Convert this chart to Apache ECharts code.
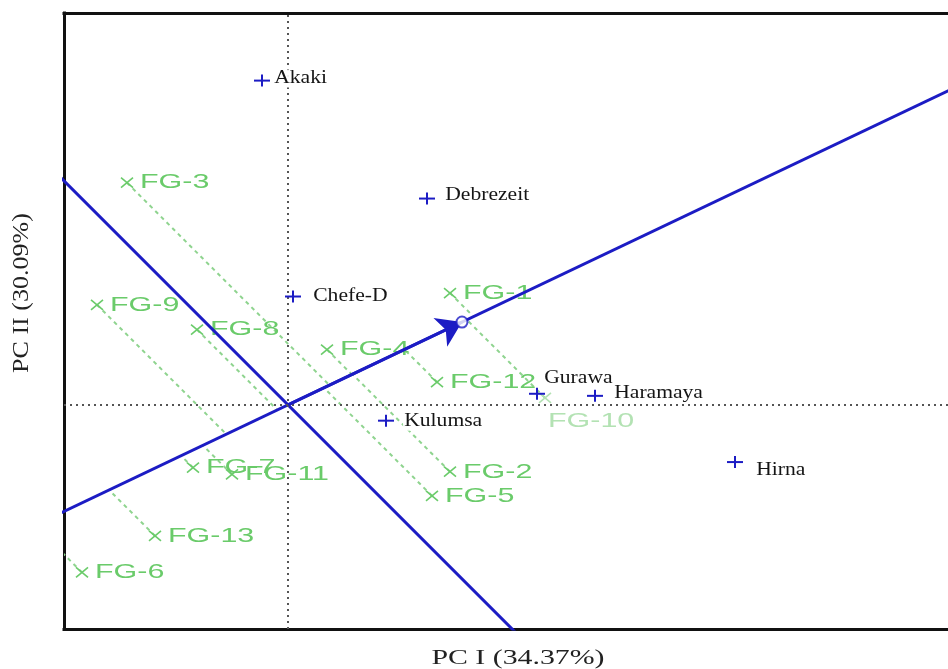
<!DOCTYPE html>
<html><head><meta charset="utf-8">
<script src="https://cdn.jsdelivr.net/npm/echarts@6/dist/echarts.min.js"></script>
<style>html,body{margin:0;padding:0;background:#fff}#c{width:948px;height:669px}</style>
</head><body><div id="c"></div>
<script>
// ---- data (PC scores) ----
const xTitle = 'PC I (34.37%)';
const yTitle = 'PC II (30.09%)';
const envNames = ['Akaki', 'Debrezeit', 'Chefe-D', 'Gurawa', 'Haramaya', 'Kulumsa', 'Hirna'];
const envPC1 = [-0.26, 1.39, 0.05, 2.49, 3.07, 0.98, 4.47];
const envPC2 = [4.70, 2.99, 1.57, 0.16, 0.13, -0.23, -0.83];
const genoNames = ['FG-1', 'FG-2', 'FG-3', 'FG-4', 'FG-5', 'FG-6', 'FG-7', 'FG-8', 'FG-9', 'FG-10', 'FG-11', 'FG-12', 'FG-13'];
const genoPC1 = [1.62, 1.62, -1.61, 0.39, 1.44, -2.06, -0.95, -0.91, -1.91, 2.57, -0.56, 1.49, -1.33];
const genoPC2 = [1.62, -0.97, 3.22, 0.80, -1.32, -2.43, -0.91, 1.09, 1.45, 0.10, -1.01, 0.33, -1.90];
const avgEnv = [1.74, 1.20];

// ---- styling ----
const BLUE = '#1c1cc4', GREEN = '#6acb6a', DASHGREEN = '#8fd48f';
const xMin = -2.24, xMax = 6.60, yMin = -3.25, yMax = 5.68;
const envLabelOffset = {Akaki: [11, -2], Debrezeit: [17, -3], 'Chefe-D': [19, 0], Gurawa: [6, -16], Haramaya: [18, -3], Kulumsa: [17, 1], Hirna: [20, 8]};
const genoLabelOffset = {'FG-10': [3, 23]};

const envData = envNames.map((n, i) => [envPC1[i], envPC2[i]]);
const genoData = genoNames.map((n, i) => [genoPC1[i], genoPC2[i]]);
const len = Math.hypot(avgEnv[0], avgEnv[1]);
const u = [avgEnv[0] / len, avgEnv[1] / len];
const projData = genoData.map(g => { const s = g[0] * u[0] + g[1] * u[1]; return [g[0], g[1], s * u[0], s * u[1]]; });
const abscissa = [[-4 * avgEnv[0], -4 * avgEnv[1]], [4 * avgEnv[0], 4 * avgEnv[1]]];
const ordinate = [[3 * avgEnv[1], -3 * avgEnv[0]], [-3 * avgEnv[1], 3 * avgEnv[0]]];

function renderGeno(params, api) {
  const p = api.coord([api.value(0), api.value(1)]);
  const name = genoNames[params.dataIndex];
  const off = genoLabelOffset[name] || [13, 0];
  const col = name === 'FG-10' ? '#b3e2b3' : GREEN;
  return {type: 'group', children: [
    {type: 'line', shape: {x1: p[0] - 6, y1: p[1] - 5, x2: p[0] + 6, y2: p[1] + 5}, style: {stroke: col, lineWidth: 1.6}},
    {type: 'line', shape: {x1: p[0] - 6, y1: p[1] + 5, x2: p[0] + 6, y2: p[1] - 5}, style: {stroke: col, lineWidth: 1.6}},
    {type: 'text', x: p[0] + off[0], y: p[1] + off[1], scaleX: 1.45,
     style: {text: name, fill: col, font: '21px "Liberation Sans", Arial, sans-serif', align: 'left', verticalAlign: 'middle'}}
  ]};
}
function renderEnv(params, api) {
  const p = api.coord([api.value(0), api.value(1)]);
  const name = envNames[params.dataIndex];
  const off = envLabelOffset[name] || [15, 0];
  return {type: 'group', children: [
    {type: 'text', x: p[0] + off[0], y: p[1] + off[1], scaleX: 1.2,
     style: {text: name, fill: '#151515', font: '18px "Liberation Serif", "Times New Roman", serif', align: 'left', verticalAlign: 'middle',
             backgroundColor: 'rgba(255,255,255,0.92)', padding: [0, 1]}},
    {type: 'line', shape: {x1: p[0] - 8, y1: p[1], x2: p[0] + 8, y2: p[1]}, style: {stroke: BLUE, lineWidth: 2}},
    {type: 'line', shape: {x1: p[0], y1: p[1] - 6, x2: p[0], y2: p[1] + 6}, style: {stroke: BLUE, lineWidth: 2}}
  ]};
}
function renderProj(params, api) {
  const a = api.coord([api.value(0), api.value(1)]);
  const b = api.coord([api.value(2), api.value(3)]);
  return {type: 'line', shape: {x1: a[0], y1: a[1], x2: b[0], y2: b[1]},
          style: {stroke: DASHGREEN, lineWidth: 2, lineDash: [4, 4]}};
}

const frame = {show: true, onZero: false, lineStyle: {color: '#111', width: 3, cap: 'square'}};
const hidden = {axisTick: {show: false}, axisLabel: {show: false}, splitLine: {show: false}};
const chart = echarts.init(document.getElementById('c'), null, {renderer: 'canvas'});
chart.setOption({
  animation: false,
  backgroundColor: '#fff',
  grid: {left: 64, right: 0, top: 13, bottom: 40},
  xAxis: [
    Object.assign({type: 'value', min: xMin, max: xMax, position: 'bottom', axisLine: frame}, hidden),
    Object.assign({type: 'value', min: xMin, max: xMax, position: 'top', axisLine: frame}, hidden)
  ],
  yAxis: Object.assign({type: 'value', min: yMin, max: yMax, position: 'left', axisLine: frame}, hidden),
  graphic: [
    {type: 'text', x: 518, y: 658, scaleX: 1.42, z: 100,
     style: {text: xTitle, font: '21px "Liberation Serif", "Times New Roman", serif', fill: '#222', align: 'center', verticalAlign: 'middle'}},
    {type: 'text', x: 22, y: 293, rotation: Math.PI / 2, scaleX: 1.24, scaleY: 1.12, z: 100,
     style: {text: yTitle, font: '21px "Liberation Serif", "Times New Roman", serif', fill: '#222', align: 'center', verticalAlign: 'middle'}}
  ],
  series: [
    {type: 'custom', name: 'proj', data: projData, renderItem: renderProj, clip: true, z: 2, silent: true,
     encode: {x: [0, 2], y: [1, 3]},
     markLine: {silent: true, symbol: 'none', label: {show: false},
                lineStyle: {type: [2, 4], color: '#555', width: 2},
                data: [{xAxis: 0}, {yAxis: 0}]}},
    {type: 'custom', name: 'genotypes', data: genoData, renderItem: renderGeno, z: 3, silent: true, encode: {x: 0, y: 1}},
    {type: 'line', name: 'abscissa', data: abscissa, symbol: 'none', clip: true, z: 4, silent: true,
     lineStyle: {color: BLUE, width: 3},
     markLine: {silent: true, symbol: ['none', 'arrow'], symbolSize: 24, label: {show: false},
                lineStyle: {color: BLUE, width: 3, type: 'solid'},
                data: [[{coord: [0, 0]}, {coord: avgEnv}]]}},
    {type: 'line', name: 'ordinate', data: ordinate, symbol: 'none', clip: true, z: 4, silent: true,
     lineStyle: {color: BLUE, width: 3}},
    {type: 'scatter', name: 'avg', data: [avgEnv], symbol: 'emptyCircle', symbolSize: 11, z: 5, silent: true,
     itemStyle: {color: BLUE, borderColor: BLUE, borderWidth: 2}},
    {type: 'custom', name: 'environments', data: envData, renderItem: renderEnv, z: 6, silent: true, encode: {x: 0, y: 1}}
  ]
});
</script></body></html>
